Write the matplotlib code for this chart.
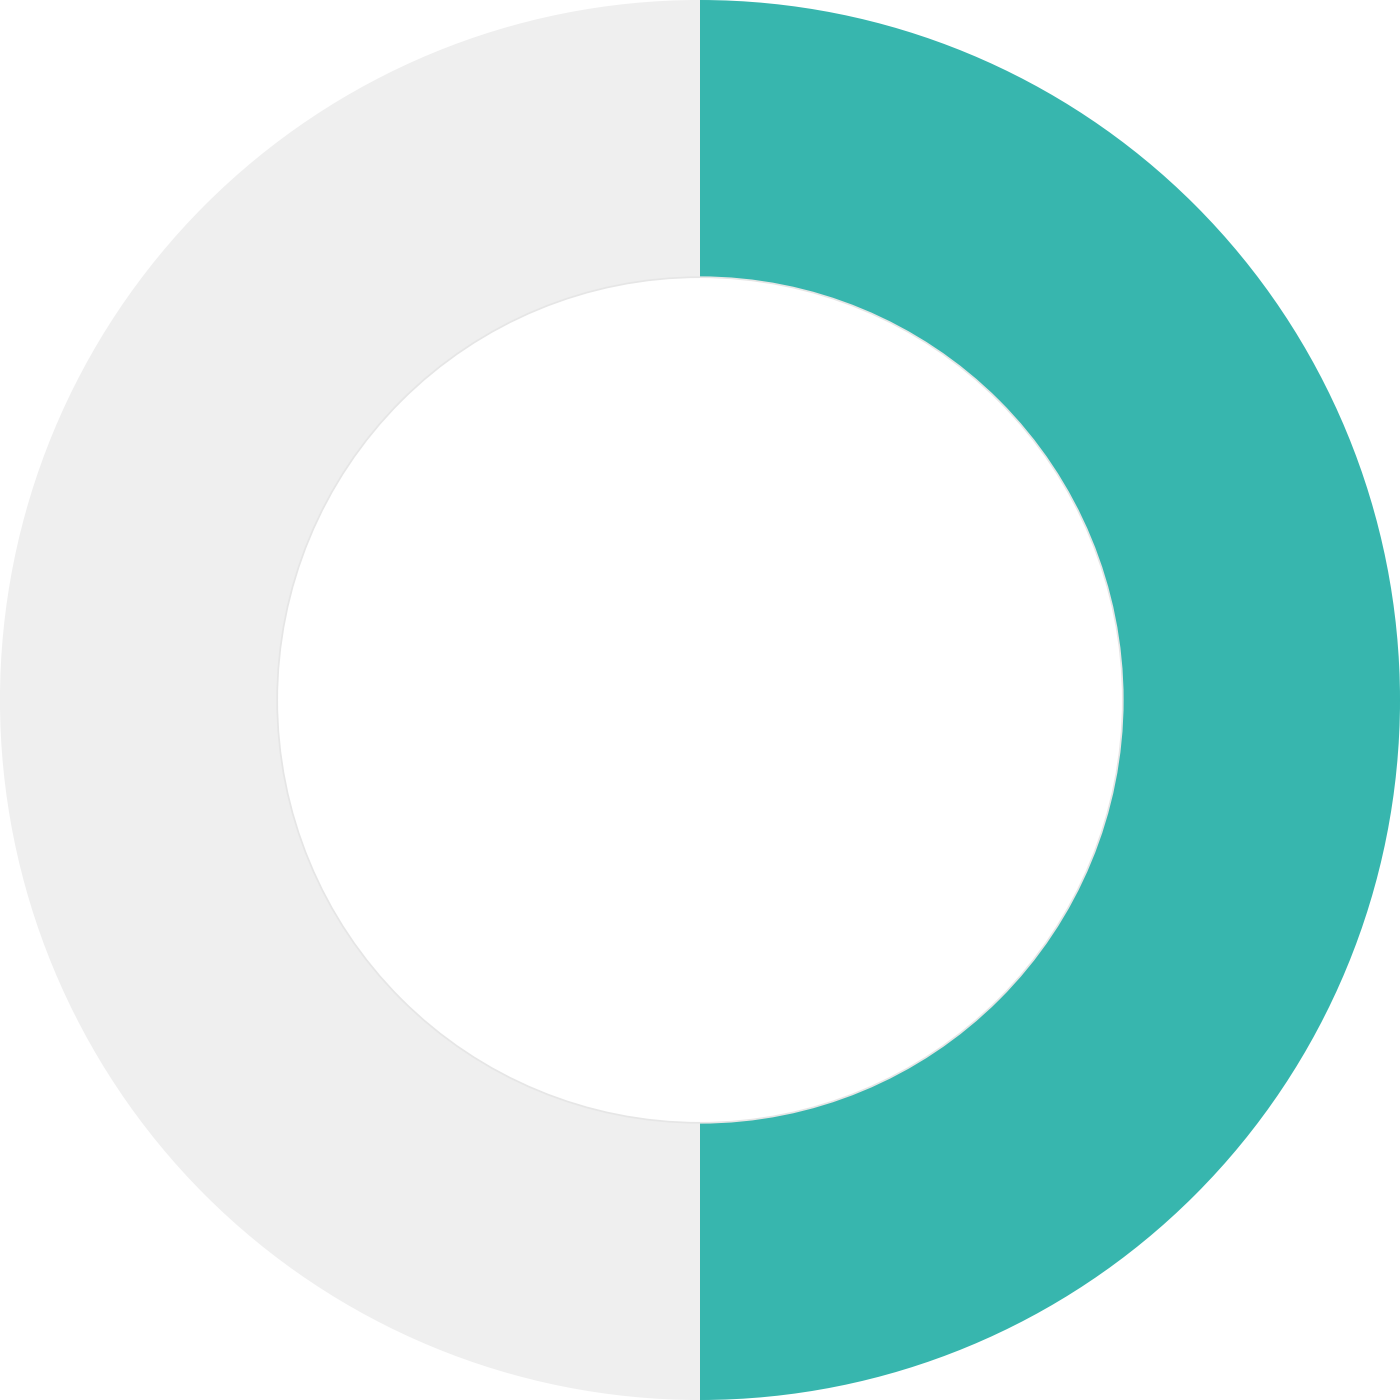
import matplotlib
matplotlib.use("Agg")
import matplotlib.pyplot as plt

# two halves of the ring
labels = ['done', 'rest']
values = [50, 50]
colors = ['#37B6AE', '#EFEFEF']

fig = plt.figure(figsize=(14, 14), dpi=100)
ax = fig.add_axes([0, 0, 1, 1])
ax.pie(values, colors=colors, startangle=90, counterclock=False,
       radius=1.0, wedgeprops=dict(width=0.396, edgecolor='none'))
# faint rim round the hole
hole = plt.Circle((0, 0), 1 - 0.396, fill=False, edgecolor='#E6E6E6', linewidth=1.2)
ax.add_patch(hole)
ax.set_xlim(-1, 1)
ax.set_ylim(-1, 1)
ax.set_aspect('equal')
ax.axis('off')
fig.savefig('out.png', dpi=100, facecolor='white')
